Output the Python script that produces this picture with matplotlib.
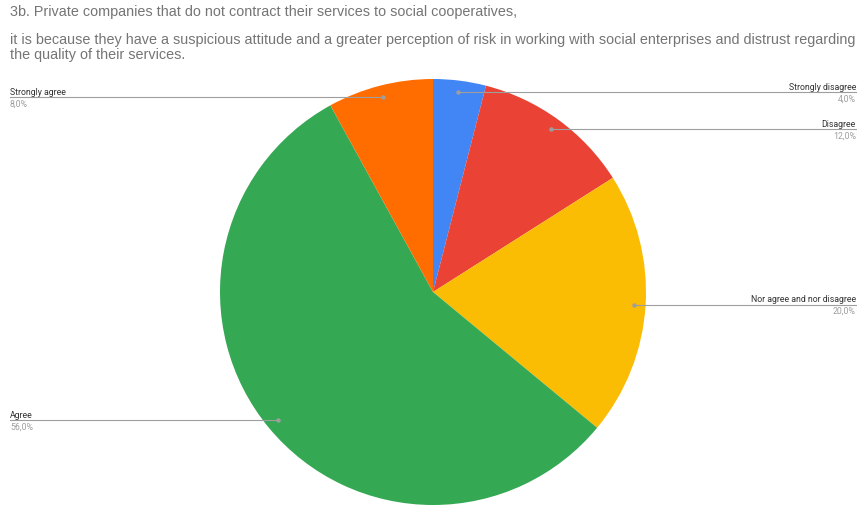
import numpy as np
import matplotlib.pyplot as plt

labels = ["Strongly disagree", "Disagree", "Nor agree and nor disagree", "Agree", "Strongly agree"]
values = [4.0, 12.0, 20.0, 56.0, 8.0]
colors = ["#4285F4", "#EA4335", "#FBBC04", "#34A853", "#FF6D01"]

title_lines = [
    "3b. Private companies that do not contract their services to social cooperatives,",
    "it is because they have a suspicious attitude and a greater perception of risk in working with social enterprises and distrust regarding",
    "the quality of their services.",
]

W, H = 857, 506
fig = plt.figure(figsize=(W / 100, H / 100), dpi=100)
ax = fig.add_axes([0, 0, 1, 1])

cx, cy, r = 433, H - 293, 213
ax.pie(values, colors=colors, startangle=90, counterclock=False,
       center=(cx, cy), radius=r, frame=True,
       wedgeprops=dict(linewidth=0))
ax.set_xlim(0, W)
ax.set_ylim(0, H)
ax.set_aspect("equal")
ax.axis("off")

# leader lines from a dot near each slice edge out to the side labels
total = sum(values)
cum = 0
for lab, v in zip(labels, values):
    mid = (cum + v / 2) / total * 2 * np.pi
    cum += v
    dx, dy = np.sin(mid), np.cos(mid)
    px, py = cx + 0.945 * r * dx, cy + 0.945 * r * dy
    if dx >= 0:
        x_end, ha = W - 1, "right"
    else:
        x_end, ha = 10, "left"
    ax.plot([px, x_end], [py, py], color="#9e9e9e", lw=0.8, zorder=5)
    ax.plot(px, py, "o", color="#9e9e9e", ms=2.2, zorder=6)
    ax.text(x_end, py + 1.5, lab, ha=ha, va="bottom", fontsize=6.35,
            family="Roboto", color="#333333")
    ax.text(x_end, py - 1.5, f"{v:.1f}%".replace(".", ","), ha=ha, va="top",
            fontsize=6.35, family="Roboto", color="#9e9e9e")

for t, y in zip(title_lines, [12, 40, 55]):
    ax.text(10, H - y, t, ha="left", va="center", fontsize=10.4,
            family="Liberation Sans", color="#757575")

fig.savefig("out.png", dpi=100)
